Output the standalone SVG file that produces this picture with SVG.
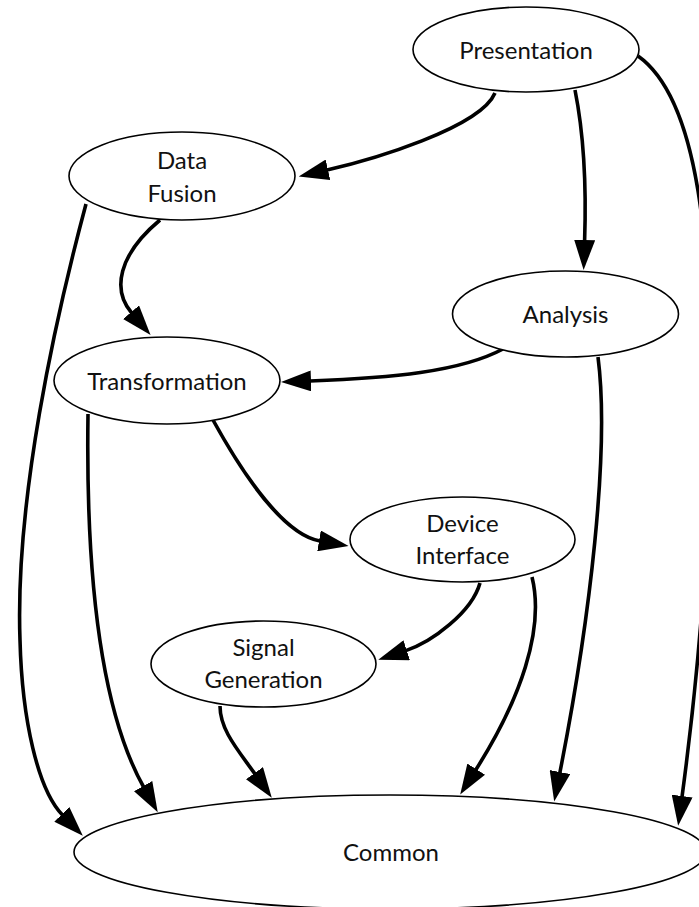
<svg xmlns="http://www.w3.org/2000/svg" width="699" height="907" viewBox="0 0 699 907">
  <defs>
    <marker id="arrow" markerUnits="userSpaceOnUse" viewBox="0 0 30 21" markerWidth="30" markerHeight="21" refX="1" refY="10.5" orient="auto">
      <path d="M0,0 L30,10.5 L0,21 z" fill="#000"/>
    </marker>
    <style>
      .node ellipse { fill: #fff; stroke: #000; stroke-width: 1.6; }
      .node text { font-family: Lato, "Open Sans", "Liberation Sans", sans-serif; font-size: 24px; fill: #111; text-anchor: middle; }
      .edge { fill: none; stroke: #000; stroke-width: 3.6; marker-end: url(#arrow); }
    </style>
  </defs>

  <rect width="699" height="907" fill="#fff"/>

  <!-- connectors -->
  <g id="edges">
    <path class="edge" d="M495,93 C480,128 371,160 327,170"/>
    <path class="edge" d="M575,90 C585,140 586,200 584.6,241"/>
    <path class="edge" d="M638,56 C700,100 712,250 710,420 C709,560 695,700 682,797"/>
    <path class="edge" d="M160,220 C118,255 112,290 131.7,313"/>
    <path class="edge" d="M86,204 C55,320 15,500 20,640 C22,720 38,790 62.5,815"/>
    <path class="edge" d="M88,414 C86,550 95,700 143.6,787"/>
    <path class="edge" d="M213,420 C245,478 285,535 320,541"/>
    <path class="edge" d="M503,349 C460,372 390,378 310,381"/>
    <path class="edge" d="M598,357 C610,450 590,620 559.8,773"/>
    <path class="edge" d="M480,583 C472,612 432,642 405.8,650.6"/>
    <path class="edge" d="M532,577 C545,630 520,700 475.7,770"/>
    <path class="edge" d="M220,706 C220,730 238,750 255,774"/>
  </g>

  <!-- nodes -->
  <g id="presentation" class="node">
    <ellipse cx="526" cy="49.5" rx="113" ry="42.5"/>
    <text x="526" y="59">Presentation</text>
  </g>
  <g id="data-fusion" class="node">
    <ellipse cx="182" cy="176" rx="113" ry="44"/>
    <text x="182" y="169">Data</text>
    <text x="182" y="202">Fusion</text>
  </g>
  <g id="analysis" class="node">
    <ellipse cx="565.5" cy="314" rx="113" ry="43"/>
    <text x="565.5" y="323">Analysis</text>
  </g>
  <g id="transformation" class="node">
    <ellipse cx="167" cy="380.5" rx="113" ry="43.5"/>
    <text x="167" y="390">Transformation</text>
  </g>
  <g id="device-interface" class="node">
    <ellipse cx="462.5" cy="539.5" rx="112.5" ry="42.5"/>
    <text x="462.5" y="532">Device</text>
    <text x="462.5" y="564">Interface</text>
  </g>
  <g id="signal-generation" class="node">
    <ellipse cx="263.5" cy="664" rx="112.5" ry="43"/>
    <text x="263.5" y="656">Signal</text>
    <text x="263.5" y="688">Generation</text>
  </g>
  <g id="common" class="node">
    <ellipse cx="390" cy="852" rx="316" ry="57"/>
    <text x="391" y="861">Common</text>
  </g>
</svg>
